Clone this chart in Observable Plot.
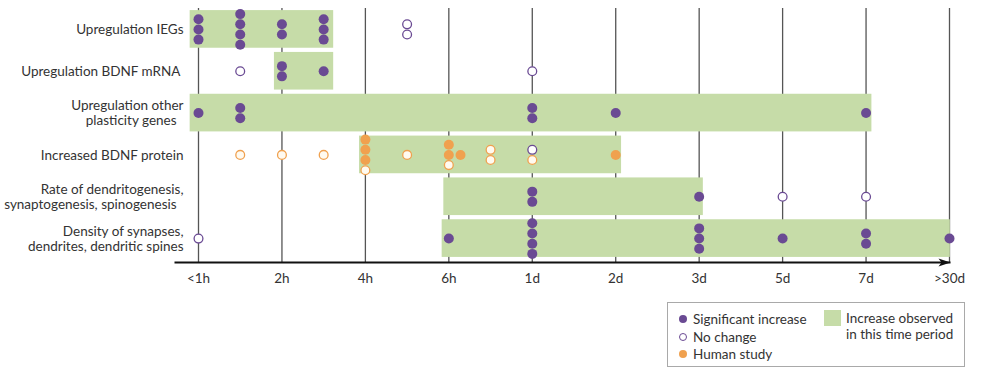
<!DOCTYPE html>
<html>
<head>
<meta charset="utf-8">
<script src="https://cdn.jsdelivr.net/npm/d3@7"></script>
<script src="https://cdn.jsdelivr.net/npm/@observablehq/plot@0.6"></script>
<style>
  body { margin: 0; background: #fff; }
  #wrap { position: relative; width: 991px; height: 379px; font-family: Lato, "Open Sans", sans-serif; }
  #legend { position: absolute; left: 667px; top: 302px; width: 298px; height: 65px; border: 1px solid #a9a9a9;
            box-sizing: border-box; font-size: 13.5px; color: #333; }
  #legend .item { position: absolute; left: 11px; height: 17px; display: flex; align-items: center; white-space: nowrap; }
  #legend .sw { width: 8px; height: 8px; border-radius: 50%; margin-right: 6px; box-sizing: border-box; }
  #legend .band { position: absolute; left: 156px; top: 7px; width: 17px; height: 16px; }
  #legend .bandtext { position: absolute; left: 178px; top: 7px; line-height: 16px; }
</style>
</head>
<body>
<div id="wrap"><div id="chart"></div><div id="legend"></div></div>
<script>
// ---- data ----
const timeLabels = ["<1h", "2h", "4h", "6h", "1d", "2d", "3d", "5d", "7d", ">30d"];
const rowLabels = [
  "Upregulation IEGs",
  "Upregulation BDNF mRNA\u00a0",
  "Upregulation other\nplasticity genes\u00a0\u00a0",
  "Increased BDNF protein",
  "Rate of dendritogenesis,\nsynaptogenesis, spinogenesis\u00a0\u00a0",
  "Density of synapses,\ndendrites, dendritic spines"
];
// periods with an observed increase (green bands), time in axis-index units
const bandRow   = [0, 1, 2, 3, 4, 5];
const bandStart = [-0.1, 0.91, -0.1, 1.93, 2.94, 2.92];
const bandEnd   = [1.62, 1.62, 8.07, 5.07, 6.05, 9.01];
// studies: S = significant increase, N = no change, H = human study (increase), h = human study (no change)
const groupRow  = [0,0,0,0,0, 1,1,1,1, 2,2,2,2,2, 3,3,3,3,3,3,3,3,3,3, 4,4,4,4, 5,5,5,5,5,5,5];
const groupTime = [0,0.5,1,1.5,2.5, 0.5,1,1.5,4, 0,0.5,4,5,8, 0.5,1,1.5,2,2.5,3,3.14,3.5,4,5, 4,6,7,8, 0,3,4,6,7,8,9];
const groupDots = ["SSS","SSSS","SS","SSS","NN", "N","SS","S","N", "S","SS","SS","S","S",
                   "h","h","h","HHHh","h","HHh","H","hh","Nh","H", "SS","S","N","N",
                   "N","S","SSSS","SSS","S","SS","S"];
const legendLabels = ["Significant increase", "No change", "Human study"];
const bandLegendLabel = "Increase observed\nin this time period";

// ---- styling ----
const purple = "#6a4a93", orange = "#f0a14f", green = "#c6dca8", cream = "#fffaf0";
const W = 991, H = 290, mT = 8, mB = 28, mL = 175, mR = 42, insB = 3;
const rowPx = (H - mT - mB - insB) / 6;
const dotStep = 10.2 / rowPx;

const bands = bandRow.map((r, i) => ({row: r, start: bandStart[i], end: bandEnd[i]}));
const dots = [];
groupRow.forEach((r, g) => {
  const s = groupDots[g], n = s.length;
  for (let i = 0; i < n; i++) dots.push({t: groupTime[g], y: r + (i - (n - 1) / 2) * dotStep, kind: s[i]});
});
const rows = rowLabels.map((label, i) => ({i, label}));

const arrowHead = {
  draw(ctx) { ctx.moveTo(1, 0); ctx.lineTo(-11, -4); ctx.lineTo(-8, 0); ctx.lineTo(-11, 4); ctx.closePath(); }
};

const chart = Plot.plot({
  width: W, height: H,
  marginTop: mT, marginBottom: mB, marginLeft: mL, marginRight: mR,
  style: {fontFamily: "Lato, 'Open Sans', sans-serif", fontSize: "13.5px", color: "#333", background: "#fff"},
  x: {domain: [0, 9], insetLeft: 23, ticks: d3.range(10), tickFormat: d => timeLabels[d], tickSize: 0, tickPadding: 11, label: null},
  y: {domain: [-0.5, 5.5], reverse: true, insetBottom: insB, axis: null},
  marks: [
    Plot.ruleX(d3.range(10), {stroke: "#555", strokeWidth: 1.3}),
    Plot.rect(bands, {x1: "start", x2: "end", y1: d => d.row - 0.45, y2: d => d.row + 0.45, fill: green}),
    Plot.frame({anchor: "bottom", stroke: "#111", strokeWidth: 2}),
    Plot.dot([9], {x: d => d, frameAnchor: "bottom", symbol: arrowHead, r: 5, fill: "#111", stroke: "none"}),
    Plot.text(rows, {y: "i", text: "label", frameAnchor: "left", textAnchor: "end", dx: 8, lineHeight: 1.11, fill: "#333", fontSize: 13.5}),
    Plot.dot(dots.filter(d => d.kind === "S"), {x: "t", y: "y", r: 5, fill: purple, stroke: "none"}),
    Plot.dot(dots.filter(d => d.kind === "N"), {x: "t", y: "y", r: 4.4, fill: "#fff", stroke: purple, strokeWidth: 1.3}),
    Plot.dot(dots.filter(d => d.kind === "H"), {x: "t", y: "y", r: 5, fill: orange, stroke: "none"}),
    Plot.dot(dots.filter(d => d.kind === "h"), {x: "t", y: "y", r: 4.4, fill: cream, stroke: orange, strokeWidth: 1.3})
  ]
});
document.getElementById("chart").appendChild(chart);

// ---- legend ----
const legend = document.getElementById("legend");
const swatches = [
  {bg: purple, border: "none"},
  {bg: "#fff", border: `1.3px solid ${purple}`},
  {bg: orange, border: "none"}
];
legendLabels.forEach((label, i) => {
  const item = document.createElement("div");
  item.className = "item";
  item.style.top = [7, 25.5, 42][i] + "px";
  const sw = document.createElement("span");
  sw.className = "sw";
  sw.style.background = swatches[i].bg;
  sw.style.border = swatches[i].border;
  item.appendChild(sw);
  item.appendChild(document.createTextNode(label));
  legend.appendChild(item);
});
const band = document.createElement("div");
band.className = "band"; band.style.background = green;
legend.appendChild(band);
const bt = document.createElement("div");
bt.className = "bandtext";
bt.innerHTML = bandLegendLabel.split("\n").join("<br>");
legend.appendChild(bt);
</script>
</body>
</html>
